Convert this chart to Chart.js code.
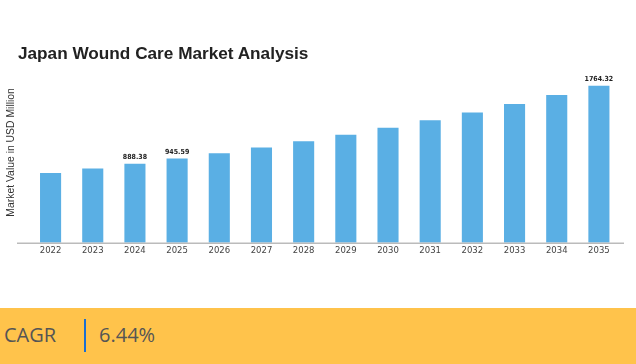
<!DOCTYPE html>
<html>
<head>
<meta charset="utf-8">
<script src="https://cdn.jsdelivr.net/npm/chart.js@4/dist/chart.umd.min.js"></script>
<style>
  body { margin: 0; background: #fff; width: 636px; height: 364px; position: relative; overflow: hidden; }
  #wrap { position: absolute; left: 0; top: 0; width: 636px; height: 308px; }
  #title { position: absolute; left: 18px; top: 43px; font: bold 17.2px "Liberation Sans", Arial, sans-serif; color: #222; }
  #band { position: absolute; left: 0; top: 308px; width: 636px; height: 56px; background: #FFC34B; font-family: "Open Sans", sans-serif; font-size: 20px; color: #555; }
  #band .k { position: absolute; left: 4px; top: 13px; }
  #band .sep { position: absolute; left: 84px; top: 11px; width: 1.5px; height: 33px; background: #1b6fd1; }
  #band .v { position: absolute; left: 99px; top: 13px; }
</style>
</head>
<body>
<div id="wrap"><canvas id="canvas" width="636" height="308"></canvas></div>
<div id="title">Japan Wound Care Market Analysis</div>
<div id="band"><span class="k">CAGR</span><span class="sep"></span><span class="v">6.44%</span></div>
<script>
/* datos */
const years = ["2022", "2023", "2024", "2025", "2026", "2027", "2028", "2029", "2030", "2031", "2032", "2033", "2034", "2035"];
const marketValue = [784.0, 834.6, 888.38, 945.59, 1006.5, 1071.3, 1140.3, 1213.7, 1291.9, 1375.1, 1463.6, 1557.9, 1658.2, 1764.32];
const labelledIdx = [2, 3, 13];

/* etiquetas sobre barras */
const barLabels = {
    id: 'barLabels',
    afterDatasetsDraw(chart) {
        const c = chart.ctx;
        const meta = chart.getDatasetMeta(0);
        c.save();
        c.font = 'bold 7px "DejaVu Sans Condensed", "DejaVu Sans"';
        c.fillStyle = '#222';
        c.textAlign = 'center';
        c.textBaseline = 'bottom';
        labelledIdx.forEach(function(i){
            const bar = meta.data[i];
            c.fillText(marketValue[i].toFixed(2), bar.x, bar.y - 3);
        });
        c.restore();
    }
};

/* linea base un poco mas ancha */
const baseLine = {
    id: 'baseLine',
    afterDraw(chart) {
        const c = chart.ctx;
        const a = chart.chartArea;
        c.save();
        c.strokeStyle = '#bbbbbb';
        c.lineWidth = 1.5;
        c.beginPath();
        c.moveTo(17, a.bottom + 0.5);
        c.lineTo(624, a.bottom + 0.5);
        c.stroke();
        c.restore();
    }
};

const ctx = document.getElementById('canvas');

new Chart(ctx, {
    type: 'bar',
    data: {
        labels: years,
        datasets: [{
            data: marketValue,
            backgroundColor: '#5AAFE4',
            borderWidth: 0,
            barPercentage: 0.5,
            categoryPercentage: 1
        }]
    },
    options: {
        responsive: false,
        animation: false,
        layout: { padding: { left: 1, right: 16, top: 62, bottom: 49 } },
        plugins: {
            legend: { display: false },
            tooltip: { enabled: false }
        },
        scales: {
            x: {
                grid: { display: false, drawTicks: false },
                border: { display: false },
                ticks: {
                    color: '#444',
                    padding: 3,
                    autoSkip: false,
                    font: { family: '"DejaVu Sans"', size: 8.5 },
                    maxRotation: 0
                }
            },
            y: {
                min: 0,
                max: 2030,
                grid: { display: false },
                border: { display: false },
                ticks: { display: false },
                title: {
                    display: true,
                    text: 'Market Value in USD Million',
                    color: '#333',
                    font: { family: '"Liberation Sans", Arial', size: 10.4 },
                    padding: { top: 4, bottom: 4 }
                }
            }
        }
    },
    plugins: [barLabels, baseLine]
});
</script>
</body>
</html>
